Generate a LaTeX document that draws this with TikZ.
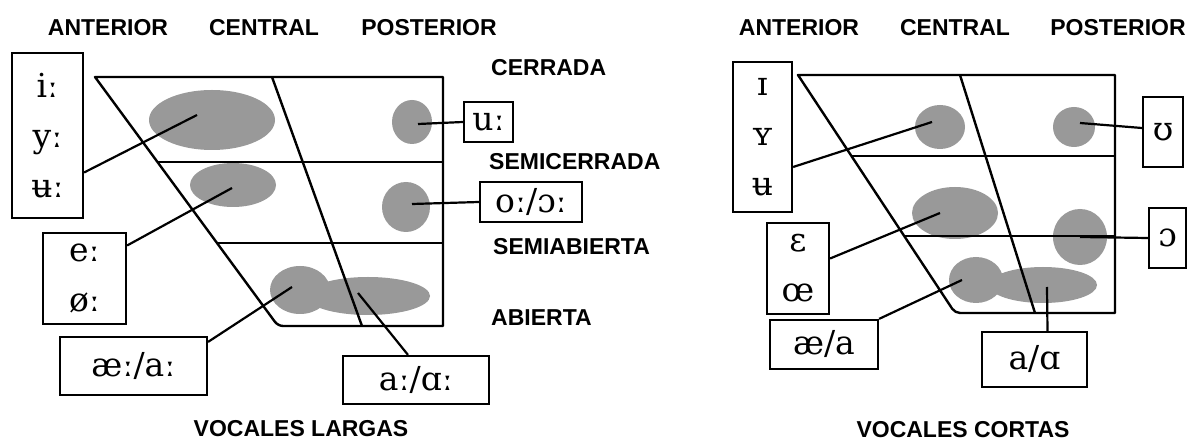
\documentclass[tikz,border=0pt]{standalone}
\usepackage{fontspec}
\setmainfont{DejaVu Serif}
\newfontfamily\headfont{Liberation Sans}

\begin{document}
\begin{tikzpicture}[
  x=1pt,y=-1pt,
  head/.style={font=\headfont\bfseries\fontsize{23}{26}\selectfont,inner sep=0pt},
  ipa/.style={rectangle,draw,line width=2.2pt,inner sep=0pt,align=center,font=\fontsize{33}{50}\selectfont},
  chart/.style={line width=2.4pt,line join=round},
  blob/.style={fill=black!40},
  link/.style={line width=2.2pt}
]
\useasboundingbox[fill=white] (0,0) rectangle (1187,443);

% vocales largas
\fill[blob] (212,120) ellipse [x radius=63,y radius=30];
\fill[blob] (233,185) ellipse [x radius=43,y radius=22];
\fill[blob] (412,122) ellipse [x radius=20,y radius=22];
\fill[blob] (406,207) ellipse [x radius=24,y radius=25];
\fill[blob] (300,290) ellipse [x radius=30,y radius=24];
\fill[blob] (368,296) ellipse [x radius=62,y radius=19];
\draw[chart] (443,77) -- (95,77) [rounded corners=5pt] -- (278,326) [sharp corners] -- (443,326) -- cycle;
\draw[chart] (272,77) -- (362,326);
\draw[chart] (157,162) -- (443,162);
\draw[chart] (216,243) -- (443,243);

\node[head] (antL) at (108,28) {ANTERIOR};
\node[head] (cenL) at (264,28) {CENTRAL};
\node[head] (posL) at (429,28) {POSTERIOR};
\node[head,anchor=west] (cerr) at (491,68) {CERRADA};
\node[head,anchor=west] (scerr) at (489,162) {SEMICERRADA};
\node[head,anchor=west] (sabi) at (493,247) {SEMIABIERTA};
\node[head,anchor=west] (abi) at (491,318) {ABIERTA};
\node[head] (largas) at (301,429) {VOCALES LARGAS};

\node[ipa,minimum width=71pt,minimum height=165pt] (iyL) at (47.5,135.5) {iː\\yː\\ʉː};
\node[ipa,minimum width=83pt,minimum height=91pt] (eoL) at (84.5,278.5) {eː\\øː};
\node[ipa,minimum width=147pt,minimum height=58pt] (aeL) at (133.5,366) {æː/aː};
\node[ipa,minimum width=146pt,minimum height=48pt] (aaL) at (416,380) {aː/ɑː};
\node[ipa,minimum width=49pt,minimum height=40pt] (uL) at (488.5,122) {uː};
\node[ipa,minimum width=102pt,minimum height=40pt] (ooL) at (531,202) {oː/ɔː};

\coordinate (iyLp) at (197,115);
\coordinate (eoLp) at (232,188);
\coordinate (aeLp) at (292,287);
\coordinate (aaLp) at (358,293);
\coordinate (uLp) at (418,124);
\coordinate (ooLp) at (412,204);

\draw[link] ([yshift=-37pt]iyL.east) -- (iyLp);
\draw[link] ([yshift=33pt]eoL.east) -- (eoLp);
\draw[link] ([yshift=-6pt]aeL.north east) -- (aeLp);
\draw[link] ([xshift=-8pt]aaL.north) -- (aaLp);
\draw[link] (uL.west) -- (uLp);
\draw[link] (ooL.west) -- (ooLp);

% vocales cortas
\fill[blob] (940,127) ellipse [x radius=25,y radius=22];
\fill[blob] (1074,127) ellipse [x radius=21,y radius=20];
\fill[blob] (955,213) ellipse [x radius=43,y radius=26];
\fill[blob] (1080,237) ellipse [x radius=27,y radius=28];
\fill[blob] (976,280) ellipse [x radius=27,y radius=23];
\fill[blob] (1043,285) ellipse [x radius=54,y radius=18];
\draw[chart] (1115,75) -- (798,75) [rounded corners=5pt] -- (955,313) [sharp corners] -- (1115,313) -- cycle;
\draw[chart] (960,75) -- (1035,313);
\draw[chart] (851,156) -- (1115,156);
\draw[chart] (904,236) -- (1115,236);

\node[head] (antR) at (799,28) {ANTERIOR};
\node[head] (cenR) at (955,28) {CENTRAL};
\node[head] (posR) at (1118,28) {POSTERIOR};
\node[head] (cortas) at (963,430) {VOCALES CORTAS};

\node[ipa,minimum width=59pt,minimum height=150pt] (iyR) at (762.5,137) {ɪ\\ʏ\\ʉ};
\node[ipa,minimum width=62pt,minimum height=91pt] (eoR) at (798,268.5) {ɛ\\œ};
\node[ipa,minimum width=108pt,minimum height=49pt] (aeR) at (824,344.5) {æ/a};
\node[ipa,minimum width=105pt,minimum height=55pt] (aaR) at (1034.5,359.5) {a/ɑ};
\node[ipa,minimum width=40pt,minimum height=70pt] (uR) at (1163,132) {ʊ};
\node[ipa,minimum width=37pt,minimum height=60pt] (ooR) at (1167.5,238) {ɔ};

\coordinate (iyRp) at (932,122);
\coordinate (eoRp) at (940,213);
\coordinate (aeRp) at (962,280);
\coordinate (aaRp) at (1047,287);
\coordinate (uRp) at (1080,123);
\coordinate (ooRp) at (1080,237);

\draw[link] ([yshift=-30pt]iyR.east) -- (iyRp);
\draw[link] ([yshift=10pt]eoR.east) -- (eoRp);
\draw[link] (aeR.north east) -- (aeRp);
\draw[link] ([xshift=13pt]aaR.north) -- (aaRp);
\draw[link] ([yshift=4pt]uR.west) -- (uRp);
\draw[link] (ooR.west) -- (ooRp);
\end{tikzpicture}
\end{document}
